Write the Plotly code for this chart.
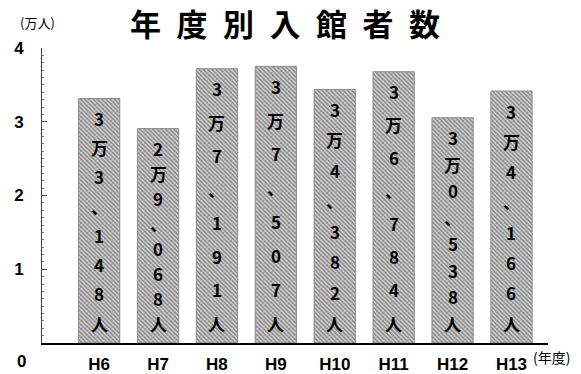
import plotly.graph_objects as go

categories = ["H6", "H7", "H8", "H9", "H10", "H11", "H12", "H13"]
visitors = [33148, 29068, 37191, 37507, 34382, 36784, 30538, 34166]
bar_labels = ["3万3、148人", "2万9、068人", "3万7、191人", "3万7、507人",
              "3万4、382人", "3万6、784人", "3万0、538人", "3万4、166人"]
y_ticks = [1, 2, 3, 4]

values_man = [v / 10000 for v in visitors]
xs = list(range(len(categories)))

W, H = 581, 374
ML, MR, MT, MB = 42, 33, 48, 31
plot_h = H - MT - MB
plot_w = W - ML - MR
units_per_px = 4 / plot_h

CJK = "Noto Sans CJK JP, sans-serif"
NARROW = "Liberation Sans Narrow, Arial Narrow, Liberation Sans, sans-serif"


def px_x(px):
    return (px - ML) / plot_w


def px_y(py_from_top):
    return (H - py_from_top - MB) / plot_h


fig = go.Figure()
fig.add_trace(go.Bar(
    x=xs, y=values_man, width=0.7,
    marker=dict(
        color="#cfcfcf",
        line=dict(color="#8a8a8a", width=1),
        pattern=dict(shape="\\", fgcolor="#808080", bgcolor="#d2d2d2",
                     size=3, solidity=0.45, fillmode="replace"),
    ),
    hoverinfo="skip",
))

annotations = []
for i, (v, lab) in enumerate(zip(values_man, bar_labels)):
    chars = list(lab)
    top_c = v - 20 * units_per_px
    bot_c = 20 * units_per_px
    n = len(chars)
    for k, ch in enumerate(chars):
        yc = top_c + (bot_c - top_c) * k / (n - 1)
        annotations.append(dict(
            x=i, y=yc, xref="x", yref="y", text=ch, showarrow=False,
            font=dict(family=CJK, size=17, color="black", weight="bold"),
            xanchor="center", yanchor="middle", borderpad=0,
        ))

title = "\u2002".join("年度別入館者数")
annotations.append(dict(
    x=px_x(285), y=px_y(22), xref="paper", yref="paper", text=title,
    showarrow=False,
    font=dict(family=CJK, size=31, color="black", weight="bold"),
    xanchor="center", yanchor="middle",
))
annotations.append(dict(
    x=px_x(37), y=px_y(22), xref="paper", yref="paper", text="(万人)",
    showarrow=False, font=dict(family=CJK, size=13, color="black"),
    xanchor="center", yanchor="middle",
))
annotations.append(dict(
    x=px_x(531), y=px_y(357), xref="paper", yref="paper", text="(年度)",
    showarrow=False, font=dict(family=CJK, size=14, color="black"),
    xanchor="left", yanchor="middle",
))
annotations.append(dict(
    x=px_x(21), y=px_y(361), xref="paper", yref="paper", text="0", showarrow=False,
    xanchor="center", yanchor="middle",
    font=dict(family=NARROW, size=17, color="black", weight="bold"),
))

fig.update_layout(
    width=W, height=H,
    margin=dict(l=ML, r=MR, t=MT, b=MB, autoexpand=False),
    paper_bgcolor="white", plot_bgcolor="white",
    showlegend=False,
    annotations=annotations,
    xaxis=dict(
        range=[-0.97, 7.62], tickvals=xs, ticktext=categories,
        showline=True, linecolor="black", linewidth=2,
        showgrid=False, zeroline=False, ticks="",
        ticklabelstandoff=5, automargin=False,
        tickfont=dict(family=NARROW, size=17, color="black", weight="bold"),
    ),
    yaxis=dict(
        range=[0, 4], tickvals=y_ticks, ticktext=[str(t) for t in y_ticks],
        showline=True, linecolor="#444", linewidth=1,
        showgrid=False, zeroline=False,
        ticks="inside", ticklen=5, tickcolor="#444",
        ticklabelstandoff=14, automargin=False,
        minor=dict(ticks="inside", ticklen=2, dtick=0.1, tickcolor="#777"),
        tickfont=dict(family=NARROW, size=17, color="black", weight="bold"),
    ),
)

fig.write_html("out.html")
